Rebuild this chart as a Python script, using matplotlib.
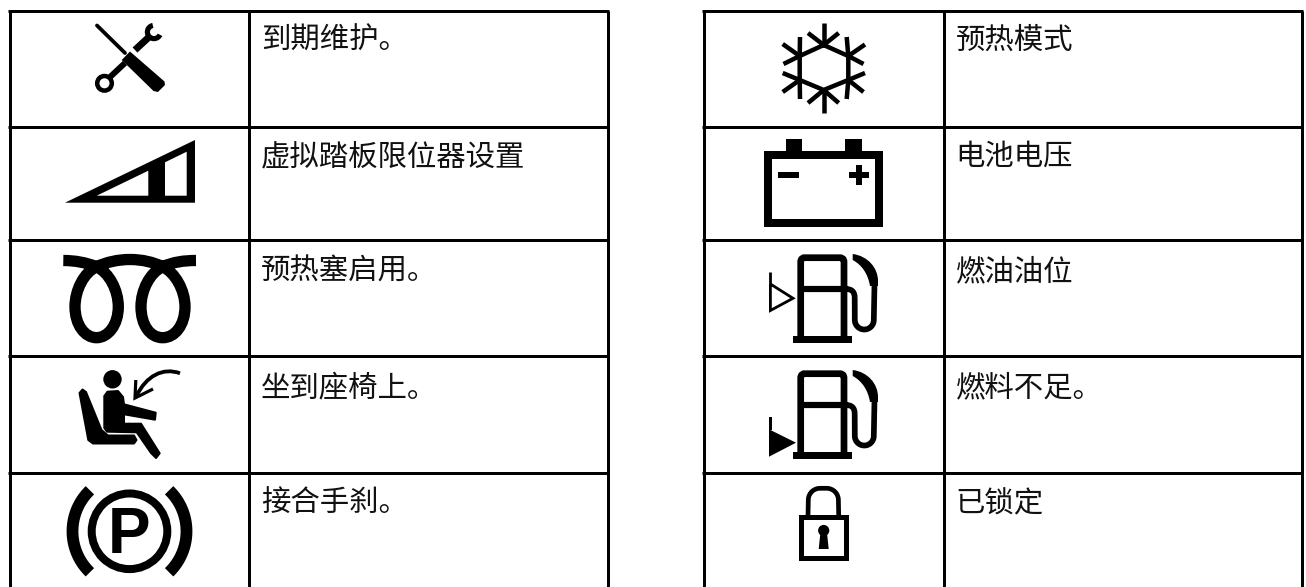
import numpy as np
import matplotlib
matplotlib.use("Agg")
import matplotlib.pyplot as plt
from matplotlib.path import Path
from matplotlib.patches import PathPatch, Polygon, Rectangle, Circle

plt.rcParams['font.family'] = ['Noto Sans CJK SC', 'DejaVu Sans']

labels_left = ["到期维护。", "虚拟踏板限位器设置", "预热塞启用。", "坐到座椅上。", "接合手刹。"]
labels_right = ["预热模式", "电池电压", "燃油油位", "燃料不足。", "已锁定"]
row_lines = [10.5, 126.5, 240, 356, 473]
text_base = [49, 165, 280, 396, 512]

W, H = 1306, 587
fig = plt.figure(figsize=(W/100, H/100), dpi=100)
ax = fig.add_axes([0, 0, 1, 1])
ax.set_xlim(0, W); ax.set_ylim(H, 0); ax.axis('off')
K = 'black'

def px(v):
    return v * 0.72

def line(pts, w, cap='butt', join='miter', color=K):
    p = np.array(pts, float)
    ax.plot(p[:, 0], p[:, 1], color=color, lw=px(w), solid_capstyle=cap, solid_joinstyle=join)

def poly(pts, color=K, round_edge=0):
    ax.add_patch(Polygon(pts, closed=True, fc=color, ec=color if round_edge else 'none',
                         lw=px(round_edge), joinstyle='round'))

def rect(x0, y0, x1, y1, color=K):
    ax.add_patch(Rectangle((x0, y0), x1-x0, y1-y0, fc=color, ec='none'))

def arc(cx, cy, r, a0, a1, n=40):
    t = np.radians(np.linspace(a0, a1, n))
    return np.c_[cx + r*np.cos(t), cy - r*np.sin(t)]

def bez(verts, w, cap='butt'):
    codes = [Path.MOVETO] + [Path.CURVE4]*(len(verts)-1)
    ax.add_patch(PathPatch(Path(verts, codes), fc='none', ec=K, lw=px(w), capstyle=cap, joinstyle='round'))

# ---------- tables ----------
for x0, xm, x1, labels, tx in [(9.5, 249, 607.5, labels_left, 261),
                               (703.5, 943.5, 1301.5, labels_right, 955.5)]:
    for y in row_lines:
        line([(x0-1.5, y), (x1+1.5, y)], 3)
    for x in (x0, xm, x1):
        line([(x, row_lines[0]), (x, H)], 3)
    for lab, yb in zip(labels, text_base):
        ax.text(tx, yb, lab, fontsize=21.2, va='baseline', ha='left', color='#111111')

# ---------- wrench & screwdriver ----------
line([(97, 25.5), (125, 53)], 3.8, cap='round')
poly([(130, 51.5), (121.7, 60), (153.5, 91), (158, 92), (165, 85), (164.5, 81.5)])
ax.add_patch(Circle((104.5, 83.3), 7.3, fc='none', ec=K, lw=px(4.5)))
line([(109, 78), (125, 63)], 6)
line([(135, 50), (149, 37)], 7)
line(arc(154, 32, 6.6, 100, 335), 5.2)

# ---------- ramp ----------
poly([(65, 202.7), (195, 140), (195, 202.7)])
poly([(96.7, 195.7), (148.3, 170.7), (148.3, 195.7)], 'white')
poly([(165, 162.3), (186.7, 151.7), (186.7, 195.7), (165, 195.7)], 'white')

# ---------- glow plug ----------
bez([(63.3, 260.5), (75, 260.5), (86, 262.5), (96.5, 266.7),
     (109, 272.5), (118.3, 290), (118.3, 306.7),
     (118.3, 325), (108, 337.7), (96.5, 337.7),
     (85, 337.7), (75, 325), (75, 306.7),
     (75, 290), (84, 272.5), (96.5, 266.7),
     (107, 262), (118, 259.5), (130, 259.5),
     (142, 259.5), (153, 262), (162.7, 266.7),
     (175, 272.5), (185, 290), (185, 306.7),
     (185, 325), (175, 337.7), (162.7, 337.7),
     (150, 337.7), (141, 325), (141, 306.7),
     (141, 290), (150, 272.5), (162.7, 266.7),
     (173, 262), (184, 260.5), (196, 260.5)], 11.3)

# ---------- seated person ----------
ax.add_patch(Circle((112.5, 379.3), 9.2, fc=K, ec='none'))
poly([(79.5, 393), (82.5, 389.5), (86, 392), (101.5, 430), (108, 435.5), (134, 435.5),
      (136.5, 440), (134, 443.5), (93, 443.5), (88.3, 440)], round_edge=2)
poly([(104.3, 396), (107.5, 391.7), (118, 391), (123, 397), (124, 404.3),
      (155.7, 412.7), (155, 419.7), (124, 414.3), (124, 423.7), (141, 423.7),
      (159.7, 453.3), (156, 458), (151, 453), (136.7, 432.3), (107, 431.7), (104.3, 428)],
     round_edge=2)
bez([(180, 373.3), (163, 367), (146, 376), (136.5, 396)], 3.8)
line([(135.8, 380), (135, 398), (153, 389)], 3.2)

# ---------- parking brake ----------
ax.add_patch(Circle((129.5, 531.3), 37.8, fc='none', ec=K, lw=px(8)))
ax.text(129.5, 553.3, "P", fontsize=46, fontweight='bold', family=['Liberation Sans'],
        ha='center', va='baseline', color=K)
line(arc(129.5, 531.3, 57, 134, 226), 11.8)
line(arc(129.5, 531.3, 57, -46, 46), 11.8)

# ---------- snowflake ----------
hexa = [(823.7, 45), (848.3, 56), (848.3, 80), (823.7, 90), (799.7, 80), (799.7, 56), (823.7, 45)]
line(hexa, 4.5)
spokes = [((823.7, 45), [(823.7, 23), (808, 33), (838.7, 33)]),
          ((848.3, 56), [(865, 44.5), (846.7, 37), (863.5, 64)]),
          ((848.3, 80), [(865, 73), (863.5, 92), (846.7, 99)]),
          ((823.7, 90), [(823.7, 112.7), (808, 103), (838.7, 103)]),
          ((799.7, 80), [(782.7, 73), (782.7, 92), (800, 99)]),
          ((799.7, 56), [(782.7, 44), (800, 37), (783.5, 64)])]
for v, ends in spokes:
    for e in ends:
        line([v, e], 4.5)

# ---------- battery ----------
rect(786, 139.3, 802.3, 152); rect(845, 139.3, 861.7, 152)
ax.add_patch(Rectangle((768, 155), 111, 67.7, fc='none', ec=K, lw=px(8), joinstyle='miter'))
rect(777.7, 172.3, 799, 178.3)
rect(849, 172.3, 869.3, 178.3); rect(856.3, 165, 862.3, 185.3)

# ---------- fuel pumps ----------
def pump(dy):
    line([(800.7, 455+dy), (800.7, 377+dy), (801.5, 375+dy), (803.5, 373.7+dy),
          (841, 373.7+dy), (843.2, 375+dy), (844, 377+dy), (844, 455+dy)], 6.7, join='round')
    line([(800.7, 405+dy), (848, 405+dy)], 6.2)
    rect(792.7, 452.3+dy, 851.7, 459+dy)
    bez([(846, 405+dy), (852, 405+dy), (854.7, 408+dy), (854.7, 414+dy)], 5.7)
    line(np.r_[[(854.7, 414+dy)], arc(864.3, 436+dy, 9.5, 180, 360), [(874.5, 400+dy)]], 5.7, join='round')
    ax.add_patch(PathPatch(Path(
        [(852.7, 370+dy), (868, 372+dy), (878, 384+dy), (878, 397+dy), (878, 402+dy), (870, 402+dy), (870, 402+dy),
         (868, 390+dy), (862, 381+dy), (852.7, 376+dy), (852.7, 370+dy)],
        [Path.MOVETO, Path.CURVE4, Path.CURVE4, Path.CURVE4, Path.LINETO, Path.LINETO, Path.LINETO,
         Path.CURVE4, Path.CURVE4, Path.CURVE4, Path.CLOSEPOLY]), fc=K, ec='none'))

pump(-116)
pump(0)
line([(770.4, 271.7), (770.4, 285)], 2.8)
line([(770.4, 284), (793, 298.3), (770.4, 310.5), (770.4, 284)], 2.8)
poly([(769, 429.3), (796, 442.7), (769, 456.7)])
rect(769, 416.7, 771.7, 430)

# ---------- padlock ----------
ax.add_patch(Rectangle((800.8, 516.5), 45, 41.7, fc='none', ec=K, lw=px(5), joinstyle='miter'))
line(np.r_[[(808, 516)], arc(820, 500, 11.7, 180, 90, n=15), arc(826.7, 500, 11.7, 90, 0, n=15), [(838.7, 516)]], 4.7)
ax.add_patch(Circle((823.7, 530.5), 5.6, fc=K, ec='none'))
poly([(820.5, 532), (826.9, 532), (828.7, 549), (818.7, 549)])

fig.savefig('out.png', dpi=100)
